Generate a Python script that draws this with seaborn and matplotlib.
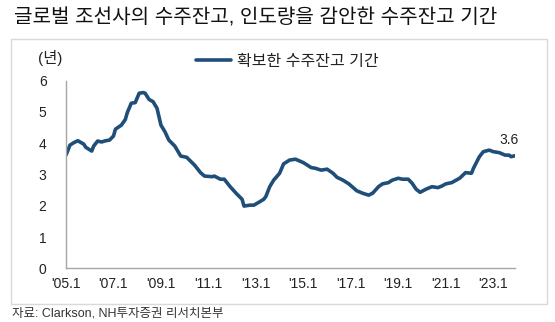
import matplotlib
matplotlib.use("Agg")
import matplotlib.pyplot as plt
import matplotlib.patches as mpatches
import seaborn as sns
import pandas as pd

# Order-backlog cover (years), month index counted from Jan 2005
months = [0, 2, 4, 6, 9, 10, 13, 14, 16, 18, 20, 22, 24, 25, 28, 30, 31, 33, 35, 37,
          39, 40, 42, 44, 46, 48, 50, 52, 55, 58, 61, 65, 68, 70, 74, 75, 78, 80, 83, 86,
          89, 90, 93, 95, 98, 100, 101, 103, 105, 108, 110, 113, 116, 120, 121, 124, 126, 129, 132, 135,
          137, 140, 143, 147, 150, 153, 155, 158, 160, 163, 165, 168, 170, 173, 175, 177, 179, 182, 185, 188,
          190, 192, 195, 199, 202, 205, 206, 209, 211, 214, 216, 219, 222, 224, 225, 227]
backlog_years = [3.62, 3.94, 4.02, 4.08, 3.97, 3.87, 3.75, 3.91, 4.07, 4.04, 4.08, 4.10, 4.23, 4.45, 4.58, 4.76, 4.98, 5.28, 5.30, 5.60,
                 5.62, 5.60, 5.40, 5.33, 5.12, 4.58, 4.37, 4.10, 3.91, 3.59, 3.55, 3.30, 3.06, 2.95, 2.93, 2.95, 2.85, 2.85, 2.61, 2.40,
                 2.21, 1.99, 2.02, 2.02, 2.13, 2.21, 2.29, 2.61, 2.82, 3.04, 3.34, 3.46, 3.49, 3.38, 3.34, 3.22, 3.20, 3.14, 3.17, 3.04,
                 2.91, 2.82, 2.70, 2.48, 2.40, 2.34, 2.40, 2.61, 2.70, 2.74, 2.82, 2.88, 2.85, 2.85, 2.72, 2.53, 2.43, 2.53, 2.61, 2.58,
                 2.63, 2.70, 2.74, 2.88, 3.06, 3.04, 3.20, 3.57, 3.73, 3.78, 3.73, 3.70, 3.62, 3.62, 3.57, 3.60]

tick_years = [2005, 2007, 2009, 2011, 2013, 2015, 2017, 2019, 2021, 2023]
tick_labels = ["'05.1", "'07.1", "'09.1", "'11.1", "'13.1", "'15.1", "'17.1", "'19.1", "'21.1", "'23.1"]
y_ticks = [0, 1, 2, 3, 4, 5, 6]

title = "글로벌 조선사의 수주잔고, 인도량을 감안한 수주잔고 기간"
series_name = "확보한 수주잔고 기간"
unit_label = "(년)"
source = "자료: Clarkson, NH투자증권 리서치본부"

sns.set_theme(style="white")
plt.rcParams["font.family"] = ["Liberation Sans", "Noto Sans CJK KR", "DejaVu Sans"]

df = pd.DataFrame({"t": [2005 + m / 12 for m in months], "v": backlog_years, "s": series_name})

LINE = "#1f4e79"
GRID = "#a6a6a6"

fig = plt.figure(figsize=(5.55, 3.22), dpi=100)
fig.patch.set_facecolor("white")

# outer frame around the chart body
fig.patches.append(mpatches.Rectangle((10.5 / 555, 1 - 304 / 322), (547 - 10.5) / 555, (304 - 38.5) / 322,
                                      transform=fig.transFigure, fill=False, edgecolor="#d9d9d9", linewidth=1.0))

ax = fig.add_axes([66 / 555, 1 - 268.3 / 322, (515 - 66) / 555, (268.3 - 80.7) / 322])
sns.lineplot(data=df, x="t", y="v", hue="s", palette=[LINE], linewidth=2.6, ax=ax, legend=True)

ax.set_xlim(2005, 2005 + 227 / 12)
ax.set_ylim(0, 6)
ax.set_xticks(tick_years)
ax.set_xticklabels(tick_labels)
ax.set_yticks(y_ticks)
ax.set_xlabel("")
ax.set_ylabel("")
for side in ["top", "right"]:
    ax.spines[side].set_visible(False)
for side in ["left", "bottom"]:
    ax.spines[side].set_color(GRID)
    ax.spines[side].set_linewidth(1.0)
ax.tick_params(axis="x", direction="in", length=3, color=GRID, pad=6.5, labelsize=10, labelcolor="#222222")
ax.tick_params(axis="y", direction="in", length=3, color=GRID, pad=14, labelsize=10, labelcolor="#222222")
ax.grid(False)

leg = ax.legend(loc="center left", bbox_to_anchor=(196 / 555, 1 - 61.5 / 322), bbox_transform=fig.transFigure,
                frameon=False, fontsize=11.5, handlelength=2.2, handletextpad=0.35, borderaxespad=0, borderpad=0)
for txt in leg.get_texts():
    txt.set_color("#222222")
for h in leg.get_lines():
    h.set_linewidth(2.6)

# value of the latest observation
ax.annotate(f"{backlog_years[-1]:.1f}", xy=(df["t"].iloc[-1], backlog_years[-1]), xytext=(-6, 9),
            textcoords="offset pixels", ha="center", va="bottom", fontsize=10, color="#222222")

fig.text(38 / 555, 1 - 58 / 322, unit_label, ha="left", va="center", fontsize=11, color="#222222")
fig.text(14 / 555, 1 - 18 / 322, title, ha="left", va="center", fontsize=14.5, color="#111111")
fig.text(12 / 555, 1 - 313 / 322, source, ha="left", va="center", fontsize=9, color="#333333")

fig.savefig("out.png", dpi=100, facecolor="white")
